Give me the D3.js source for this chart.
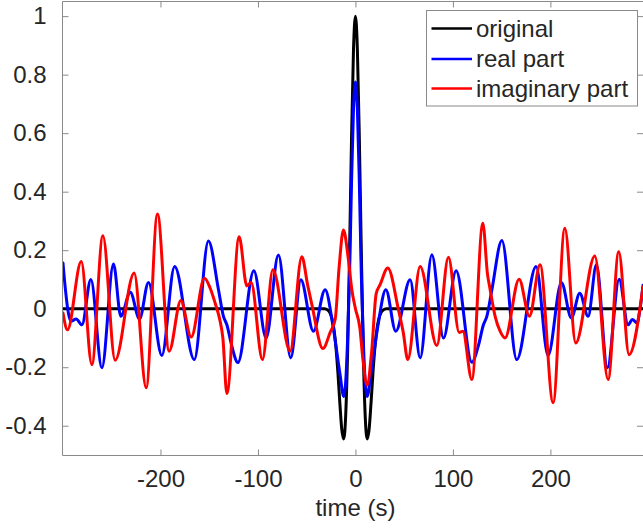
<!DOCTYPE html>
<html>
<head>
<meta charset="utf-8">
<script src="https://cdn.jsdelivr.net/npm/d3@7"></script>
<style>
  html, body { margin: 0; padding: 0; background: #fff; }
  svg { display: block; }
  text { font-family: "Liberation Sans", Arial, Helvetica, sans-serif; fill: #262626; }
</style>
</head>
<body>
<script>
// ---------------- data ----------------
const xTicks = [-200, -100, 0, 100, 200];
const yTicks = [-0.4, -0.2, 0, 0.2, 0.4, 0.6, 0.8, 1];
const yTickLabels = ["-0.4", "-0.2", "0", "0.2", "0.4", "0.6", "0.8", "1"];
const xLabel = "time (s)";
const seriesNames = ["original", "real part", "imaginary part"];
const seriesColors = ["#000000", "#0000ff", "#ff0000"];

const originalT = [-300, -40, -32, -28, -26, -24, -22, -20, -18, -16, -14, -12, -10, -8, -6, -4, -2, 0,
                   2, 4, 6, 8, 10, 12, 14, 16, 18, 20, 22, 24, 26, 28, 32, 40, 295];
const originalV = [0, 0, 0, -0.006, -0.015, -0.035, -0.071, -0.131, -0.218, -0.322, -0.413, -0.445, -0.365, -0.143, 0.2, 0.583, 0.885, 1,
                   0.885, 0.583, 0.2, -0.143, -0.365, -0.445, -0.413, -0.322, -0.218, -0.131, -0.071, -0.035, -0.015, -0.006, 0, 0, 0];

const realT = [-300, -297.5, -294.5, -292, -286.5, -280.6, -271.4, -260.1, -248.2, -240.7, -231, -221.5, -212.3, -198.6, -185.5,
               -165.3, -150.8, -140.5, -135.4, -131.9, -126.8, -120.6, -104.2, -91.6, -79, -66.3, -56, -43.1, -31.1, -23, -16, -12,
               -10, -8, -6, -4, -2, 0, 2, 4, 6, 8, 10, 12, 16, 23, 31.2, 41.4, 56.1, 66.4, 78.4, 90.3, 103.3, 119.4, 126, 131.3,
               134.8, 140, 150.2, 165.5, 185.3, 197.6, 211.3, 221.5, 230.1, 238.7, 247.2, 258.5, 270.5, 279.7, 284.1, 288.9, 292, 295];
const realV = [0.156, 0.065, -0.015, -0.043, -0.035, -0.055, 0.10, -0.202, 0.153, -0.026, 0.056, -0.035, 0.09, -0.16, 0.144,
               -0.174, 0.231, 0.065, -0.026, -0.055, -0.128, -0.184, 0.13, -0.1, 0.184, -0.168, 0.099, -0.077, 0.065, -0.06, -0.22, -0.30,
               -0.25, -0.10, 0.12, 0.43, 0.68, 0.775, 0.68, 0.43, 0.12, -0.10, -0.25, -0.30, -0.22, -0.06, 0.065, -0.077, 0.099, -0.168, 0.184, -0.1, 0.13, -0.183, -0.128, -0.055,
               -0.026, 0.065, 0.233, -0.174, 0.144, -0.16, 0.09, -0.032, 0.053, -0.026, 0.15, -0.202, 0.101, -0.055, -0.037, -0.049, 0.0, 0.08];

const imagT = [-300, -295.4, -281.3, -270.4, -259.1, -246.5, -227, -214.7, -203.1, -191.1, -179.1, -168.5, -154.9, -149, -144, -139,
               -136, -131.9, -119.3, -111.4, -107, -95.4, -84.7, -67, -55, -49, -44.7, -33.4, -25.9, -20.8, -16.7, -12.3, -7.2, -3.7, 0,
               4.5, 7.5, 11.9, 16.7, 21.2, 25.3, 33.2, 44.1, 49, 53.7, 66.4, 83.5, 95.4, 106.4, 110.2, 119.4, 130.7, 135.4, 138.2, 143.3,
               148.4, 153.5, 167.9, 178.5, 189.4, 202.8, 214.8, 226, 245.5, 259.2, 270.1, 280.7, 295];
const imagV = [-0.015, -0.072, 0.161, -0.191, 0.249, -0.176, 0.122, -0.27, 0.324, -0.145, 0.028, -0.097, 0.104, 0.07, 0.02, -0.04,
               -0.1, -0.29, 0.246, 0.078, 0.09, -0.174, 0.133, -0.145, 0.178, 0.08, 0.014, -0.136, -0.081, -0.037, 0.144, 0.269, 0.167, 0.065, 0,
               -0.065, -0.167, -0.262, -0.144, 0.05, 0.082, 0.139, -0.003, -0.08, -0.174, 0.144, -0.126, 0.176, -0.081, -0.077, -0.242, 0.292, 0.12, 0.065, -0.026,
               -0.077, -0.1, 0.101, -0.026, 0.15, -0.321, 0.275, -0.117, 0.18, -0.242, 0.195, -0.157, 0.075];

// ---------------- layout ----------------
const W = 643, H = 531;
const plot = { left: 63, top: 1.5, right: 643, bottom: 455 };

const svg = d3.select("body").append("svg").attr("width", W).attr("height", H);

const x = d3.scaleLinear().domain([-300, 295]).range([plot.left, plot.right]);
const y = d3.scaleLinear().domain([-0.5, 1.05]).range([plot.bottom, plot.top]);

svg.append("defs").append("clipPath").attr("id", "clip")
  .append("rect").attr("x", plot.left).attr("y", plot.top)
  .attr("width", plot.right - plot.left).attr("height", plot.bottom - plot.top);

const axisColor = "#8a8a8a";

// axes box lines
const g = svg.append("g");
g.append("line").attr("x1", plot.left - 0.5).attr("x2", plot.left - 0.5).attr("y1", plot.top).attr("y2", plot.bottom + 0.5)
  .attr("stroke", axisColor).attr("stroke-width", 1);
g.append("line").attr("x1", plot.left - 0.5).attr("x2", plot.right + 1).attr("y1", plot.bottom + 0.5).attr("y2", plot.bottom + 0.5)
  .attr("stroke", axisColor).attr("stroke-width", 1);
g.append("line").attr("x1", plot.left - 0.5).attr("x2", plot.right + 1).attr("y1", plot.top).attr("y2", plot.top)
  .attr("stroke", axisColor).attr("stroke-width", 1);

// bottom axis via d3 axis
const xAxis = d3.axisBottom(x).tickValues(xTicks).tickSizeInner(-6).tickSizeOuter(0).tickPadding(14)
  .tickFormat(d => String(d).replace("-", "-"));
const gx = svg.append("g").attr("transform", `translate(0,${plot.bottom + 0.5})`).call(xAxis);
gx.select(".domain").remove();
gx.selectAll(".tick line").attr("stroke", axisColor);
gx.selectAll(".tick text").attr("font-size", 24).attr("fill", "#262626").attr("dy", "0.71em")
  .style("font-family", "'Liberation Sans', Arial, sans-serif");

// top ticks
const xAxisTop = d3.axisTop(x).tickValues(xTicks).tickSizeInner(-6).tickSizeOuter(0).tickFormat("");
const gxt = svg.append("g").attr("transform", `translate(0,${plot.top})`).call(xAxisTop);
gxt.select(".domain").remove();
gxt.selectAll(".tick line").attr("stroke", axisColor);

// left axis
const yAxis = d3.axisLeft(y).tickValues(yTicks).tickSizeInner(-6).tickSizeOuter(0).tickPadding(16)
  .tickFormat((d, i) => yTickLabels[i]);
const gy = svg.append("g").attr("transform", `translate(${plot.left - 0.5},0)`).call(yAxis);
gy.select(".domain").remove();
gy.selectAll(".tick line").attr("stroke", axisColor);
gy.selectAll(".tick text").attr("font-size", 24).attr("fill", "#262626")
  .style("font-family", "'Liberation Sans', Arial, sans-serif");

// right ticks
const yAxisRight = d3.axisRight(y).tickValues(yTicks).tickSizeInner(-6).tickSizeOuter(0).tickFormat("");
const gyr = svg.append("g").attr("transform", `translate(${plot.right},0)`).call(yAxisRight);
gyr.select(".domain").remove();
gyr.selectAll(".tick line").attr("stroke", axisColor);

// x label
svg.append("text").attr("x", x(0)).attr("y", 516).attr("text-anchor", "middle")
  .attr("font-size", 24).text(xLabel);

// ---------------- curves ----------------
const line = d3.line().x(d => x(d[0])).y(d => y(d[1])).curve(d3.curveMonotoneX);
const series = [
  d3.zip(originalT, originalV),
  d3.zip(realT, realV),
  d3.zip(imagT, imagV)
];
const curves = svg.append("g").attr("clip-path", "url(#clip)");
series.forEach((s, i) => {
  curves.append("path").datum(s).attr("d", line)
    .attr("fill", "none").attr("stroke", seriesColors[i]).attr("stroke-width", 3)
    .attr("stroke-linejoin", "round").attr("stroke-linecap", "round");
});

// ---------------- legend ----------------
const lg = svg.append("g");
lg.append("rect").attr("x", 426.5).attr("y", 10.5).attr("width", 211).attr("height", 95.5)
  .attr("fill", "#fff").attr("stroke", axisColor).attr("stroke-width", 1);
const rowY = [28.5, 59, 88.5];
seriesNames.forEach((name, i) => {
  lg.append("line").attr("x1", 431.5).attr("x2", 472).attr("y1", rowY[i]).attr("y2", rowY[i])
    .attr("stroke", seriesColors[i]).attr("stroke-width", 2.5);
  lg.append("text").attr("x", 476).attr("y", rowY[i] + 8.3).attr("font-size", 24).text(name);
});
</script>
</body>
</html>
